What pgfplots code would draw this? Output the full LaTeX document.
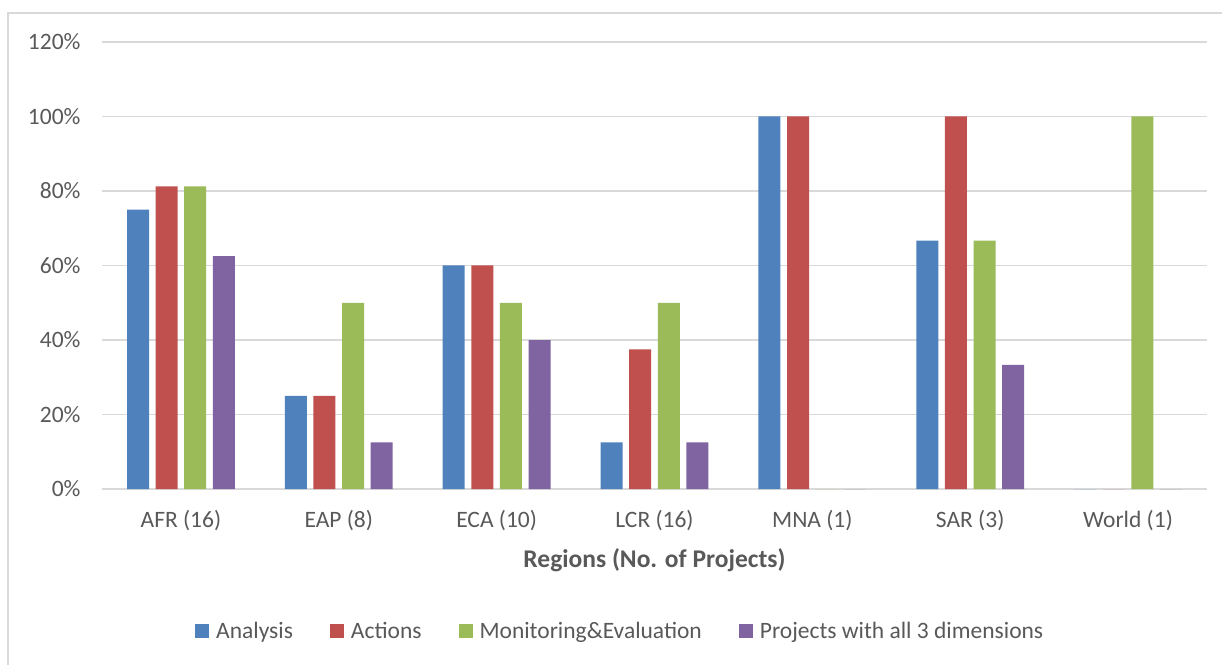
\documentclass[border=0pt]{standalone}
\usepackage{pgfplots}
\pgfplotsset{compat=1.18}
\usepackage{fontspec}
\setmainfont{Carlito}
\definecolor{cA}{HTML}{4F81BD}
\definecolor{cB}{HTML}{C0504D}
\definecolor{cC}{HTML}{9BBB59}
\definecolor{cD}{HTML}{8064A2}
\definecolor{txt}{HTML}{595959}
\definecolor{grd}{HTML}{D9D9D9}
\begin{document}
\begin{tikzpicture}[x=1pt,y=1pt]
\useasboundingbox (0,0) rectangle (1222,664);
\draw[grd, line width=1.2pt] (8,-2) -- (8,651) -- (1224,651);
\begin{axis}[
  at={(102pt,175pt)}, anchor=south west,
  scale only axis, width=1105pt, height=447pt,
  ybar=6.6pt, bar width=22pt,
  xmin=-0.5, xmax=6.5, ymin=0, ymax=120,
  xtick={0,...,6},
  xticklabels={AFR (16),EAP (8),ECA (10),LCR (16),MNA (1),SAR (3),World (1)},
  ytick={0,20,...,120},
  yticklabel={\pgfmathprintnumber{\tick}\%},
  /pgf/number format/assume math mode=true,
  major tick length=0pt,
  axis line style={draw=none},
  ymajorgrids, grid style={grd, line width=1.2pt},
  tick label style={font=\fontsize{23.5}{28}\selectfont, text=txt},
  xticklabel style={yshift=-18pt},
  yticklabel style={xshift=-18pt},
  xlabel={Regions (No. of Projects)},
  xlabel style={font=\fontsize{25.5}{30}\selectfont\bfseries, text=txt, at={(axis description cs:0.5,-0.159)}, anchor=center},
  legend columns=4,
  legend style={draw=none, at={(0.469,-0.318)}, anchor=center, font=\fontsize{23.5}{28}\selectfont, text=txt,
    /tikz/every even column/.append style={column sep=35pt}, inner sep=0pt},
  legend image code/.code={\fill[#1,draw=none] (0pt,-7pt) rectangle (14pt,7pt); \path (19pt,0pt);},
]
\addplot[fill=cA, draw=none] coordinates {(0,75) (1,25) (2,60) (3,12.5) (4,100) (5,66.7) (6,0)};
\addplot[fill=cB, draw=none] coordinates {(0,81.25) (1,25) (2,60) (3,37.5) (4,100) (5,100) (6,0)};
\addplot[fill=cC, draw=none] coordinates {(0,81.25) (1,50) (2,50) (3,50) (4,0) (5,66.7) (6,100)};
\addplot[fill=cD, draw=none] coordinates {(0,62.5) (1,12.5) (2,40) (3,12.5) (4,0) (5,33.3) (6,0)};
\legend{Analysis,Actions,Monitoring\&Evaluation,Projects with all 3 dimensions}
\end{axis}
\end{tikzpicture}
\end{document}
